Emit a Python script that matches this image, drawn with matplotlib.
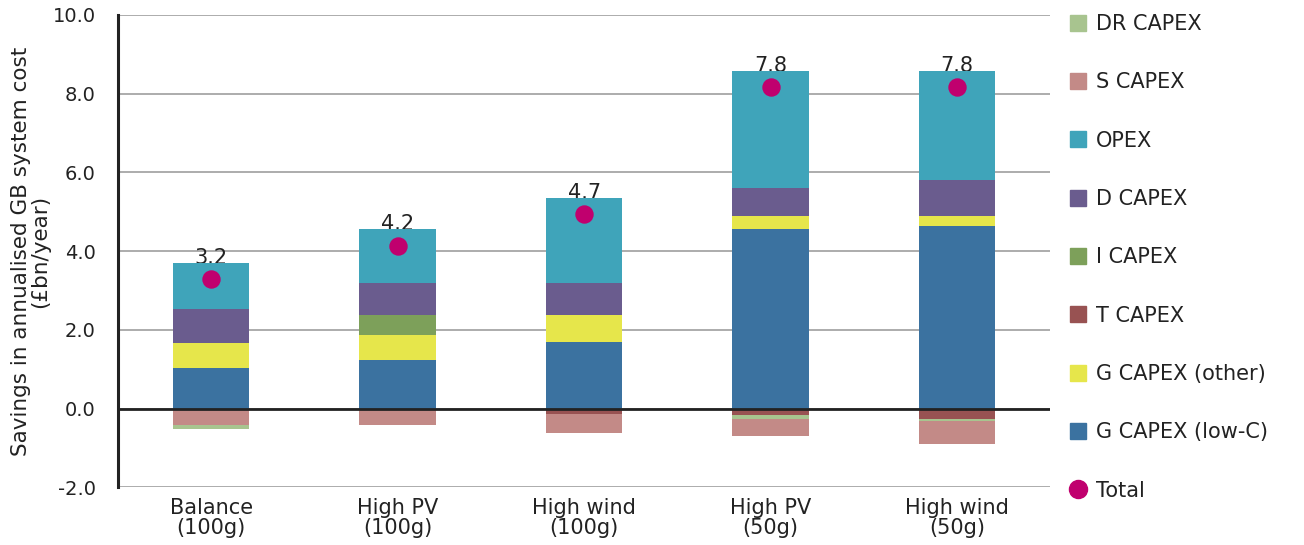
import numpy as np
import matplotlib
matplotlib.use("Agg")
import matplotlib.pyplot as plt
from matplotlib.lines import Line2D

plt.rcParams['font.family'] = ['DejaVu Sans']

scenarios = ["Balance\n(100g)", "High PV\n(100g)", "High wind\n(100g)", "High PV\n(50g)", "High wind\n(50g)"]

# positive components (bottom to top)
g_lowc = [1.03, 1.24, 1.70, 4.55, 4.65]
g_other = [0.64, 0.64, 0.67, 0.35, 0.25]
i_capex = [0.0, 0.49, 0.0, 0.0, 0.0]
d_capex = [0.85, 0.82, 0.82, 0.70, 0.90]
opex = [1.18, 1.36, 2.15, 2.97, 2.77]
# negative components
t_capex = [0.0, 0.0, -0.15, -0.17, -0.27]
dr_capex = [-0.10, 0.0, 0.0, -0.10, -0.05]
s_capex = [-0.43, -0.43, -0.47, -0.44, -0.57]

total_dot = [3.30, 4.12, 4.95, 8.17, 8.17]
total_label = [3.2, 4.2, 4.7, 7.8, 7.8]

colors = {
    "DR CAPEX": "#a8c48f",
    "S CAPEX": "#c38a87",
    "OPEX": "#3fa4ba",
    "D CAPEX": "#6a5c8e",
    "I CAPEX": "#7da05a",
    "T CAPEX": "#985252",
    "G CAPEX (other)": "#e6e64b",
    "G CAPEX (low-C)": "#3b72a0",
}
total_color = "#c0006e"

series = {
    "G CAPEX (low-C)": g_lowc,
    "G CAPEX (other)": g_other,
    "T CAPEX": t_capex,
    "I CAPEX": i_capex,
    "D CAPEX": d_capex,
    "OPEX": opex,
    "S CAPEX": s_capex,
    "DR CAPEX": dr_capex,
}
pos_order = ["G CAPEX (low-C)", "G CAPEX (other)", "I CAPEX", "D CAPEX", "OPEX"]
neg_orders = [
    ["T CAPEX", "S CAPEX", "DR CAPEX"],
    ["T CAPEX", "S CAPEX", "DR CAPEX"],
    ["T CAPEX", "DR CAPEX", "S CAPEX"],
    ["T CAPEX", "DR CAPEX", "S CAPEX"],
    ["T CAPEX", "DR CAPEX", "S CAPEX"],
]

fig = plt.figure(figsize=(13.04, 5.45), dpi=100)
ax = fig.add_axes([0.0905, 0.106, 0.715, 0.8665])

x = np.arange(len(scenarios))
width = 0.41
tops = []
for i in range(len(scenarios)):
    b = 0.0
    for name in pos_order:
        v = series[name][i]
        if v:
            ax.bar(x[i], v, width, bottom=b, color=colors[name], zorder=3)
            b += v
    tops.append(b)
    b = 0.0
    for name in neg_orders[i]:
        v = series[name][i]
        if v:
            ax.bar(x[i], v, width, bottom=b, color=colors[name], zorder=3)
            b += v

ax.scatter(x, total_dot, s=150, color=total_color, zorder=5)
for xi, top, lab in zip(x, tops, total_label):
    ax.annotate(f"{lab:.1f}", (xi, top), xytext=(0, -0.5), textcoords="offset points",
                ha="center", va="baseline", fontsize=15, color="#222222", zorder=2)

ax.set_xlim(-0.5, 4.5)
ax.set_ylim(-2, 10)
ax.set_yticks(np.arange(-2, 10.1, 2))
ax.set_yticklabels([f"{v:.1f}" for v in np.arange(-2, 10.1, 2)])
ax.set_xticks(x)
ax.set_xticklabels(scenarios, linespacing=0.95)
ax.tick_params(axis="both", length=0, labelsize=14, labelcolor="#222222")
ax.tick_params(axis="x", labelsize=15)
ax.tick_params(axis="y", pad=16)
ax.tick_params(axis="x", pad=8)
ax.yaxis.grid(True, color="#a6a6a6", lw=1.3, zorder=0)
ax.set_axisbelow(True)
ax.axhline(0, color="#222222", lw=2, zorder=4)
for s in ["top", "right", "bottom"]:
    ax.spines[s].set_visible(False)
ax.spines["left"].set_color("#222222")
ax.spines["left"].set_linewidth(2.2)
ax.set_ylabel("Savings in annualised GB system cost\n(£bn/year)", fontsize=15.5,
              color="#222222", linespacing=0.95, labelpad=2)

legend_names = ["DR CAPEX", "S CAPEX", "OPEX", "D CAPEX", "I CAPEX", "T CAPEX",
                "G CAPEX (other)", "G CAPEX (low-C)"]
handles = [Line2D([], [], marker="s", ls="", markersize=11, color=colors[n]) for n in legend_names]
handles.append(Line2D([], [], marker="o", ls="", markersize=13, color=total_color))
fig.legend(handles, legend_names + ["Total"], loc="upper left", bbox_to_anchor=(0.803, 1.009),
           frameon=False, fontsize=15, labelspacing=1.84, handletextpad=0.25,
           handlelength=1.2, labelcolor="#222222")

fig.savefig("out.png", dpi=100)
